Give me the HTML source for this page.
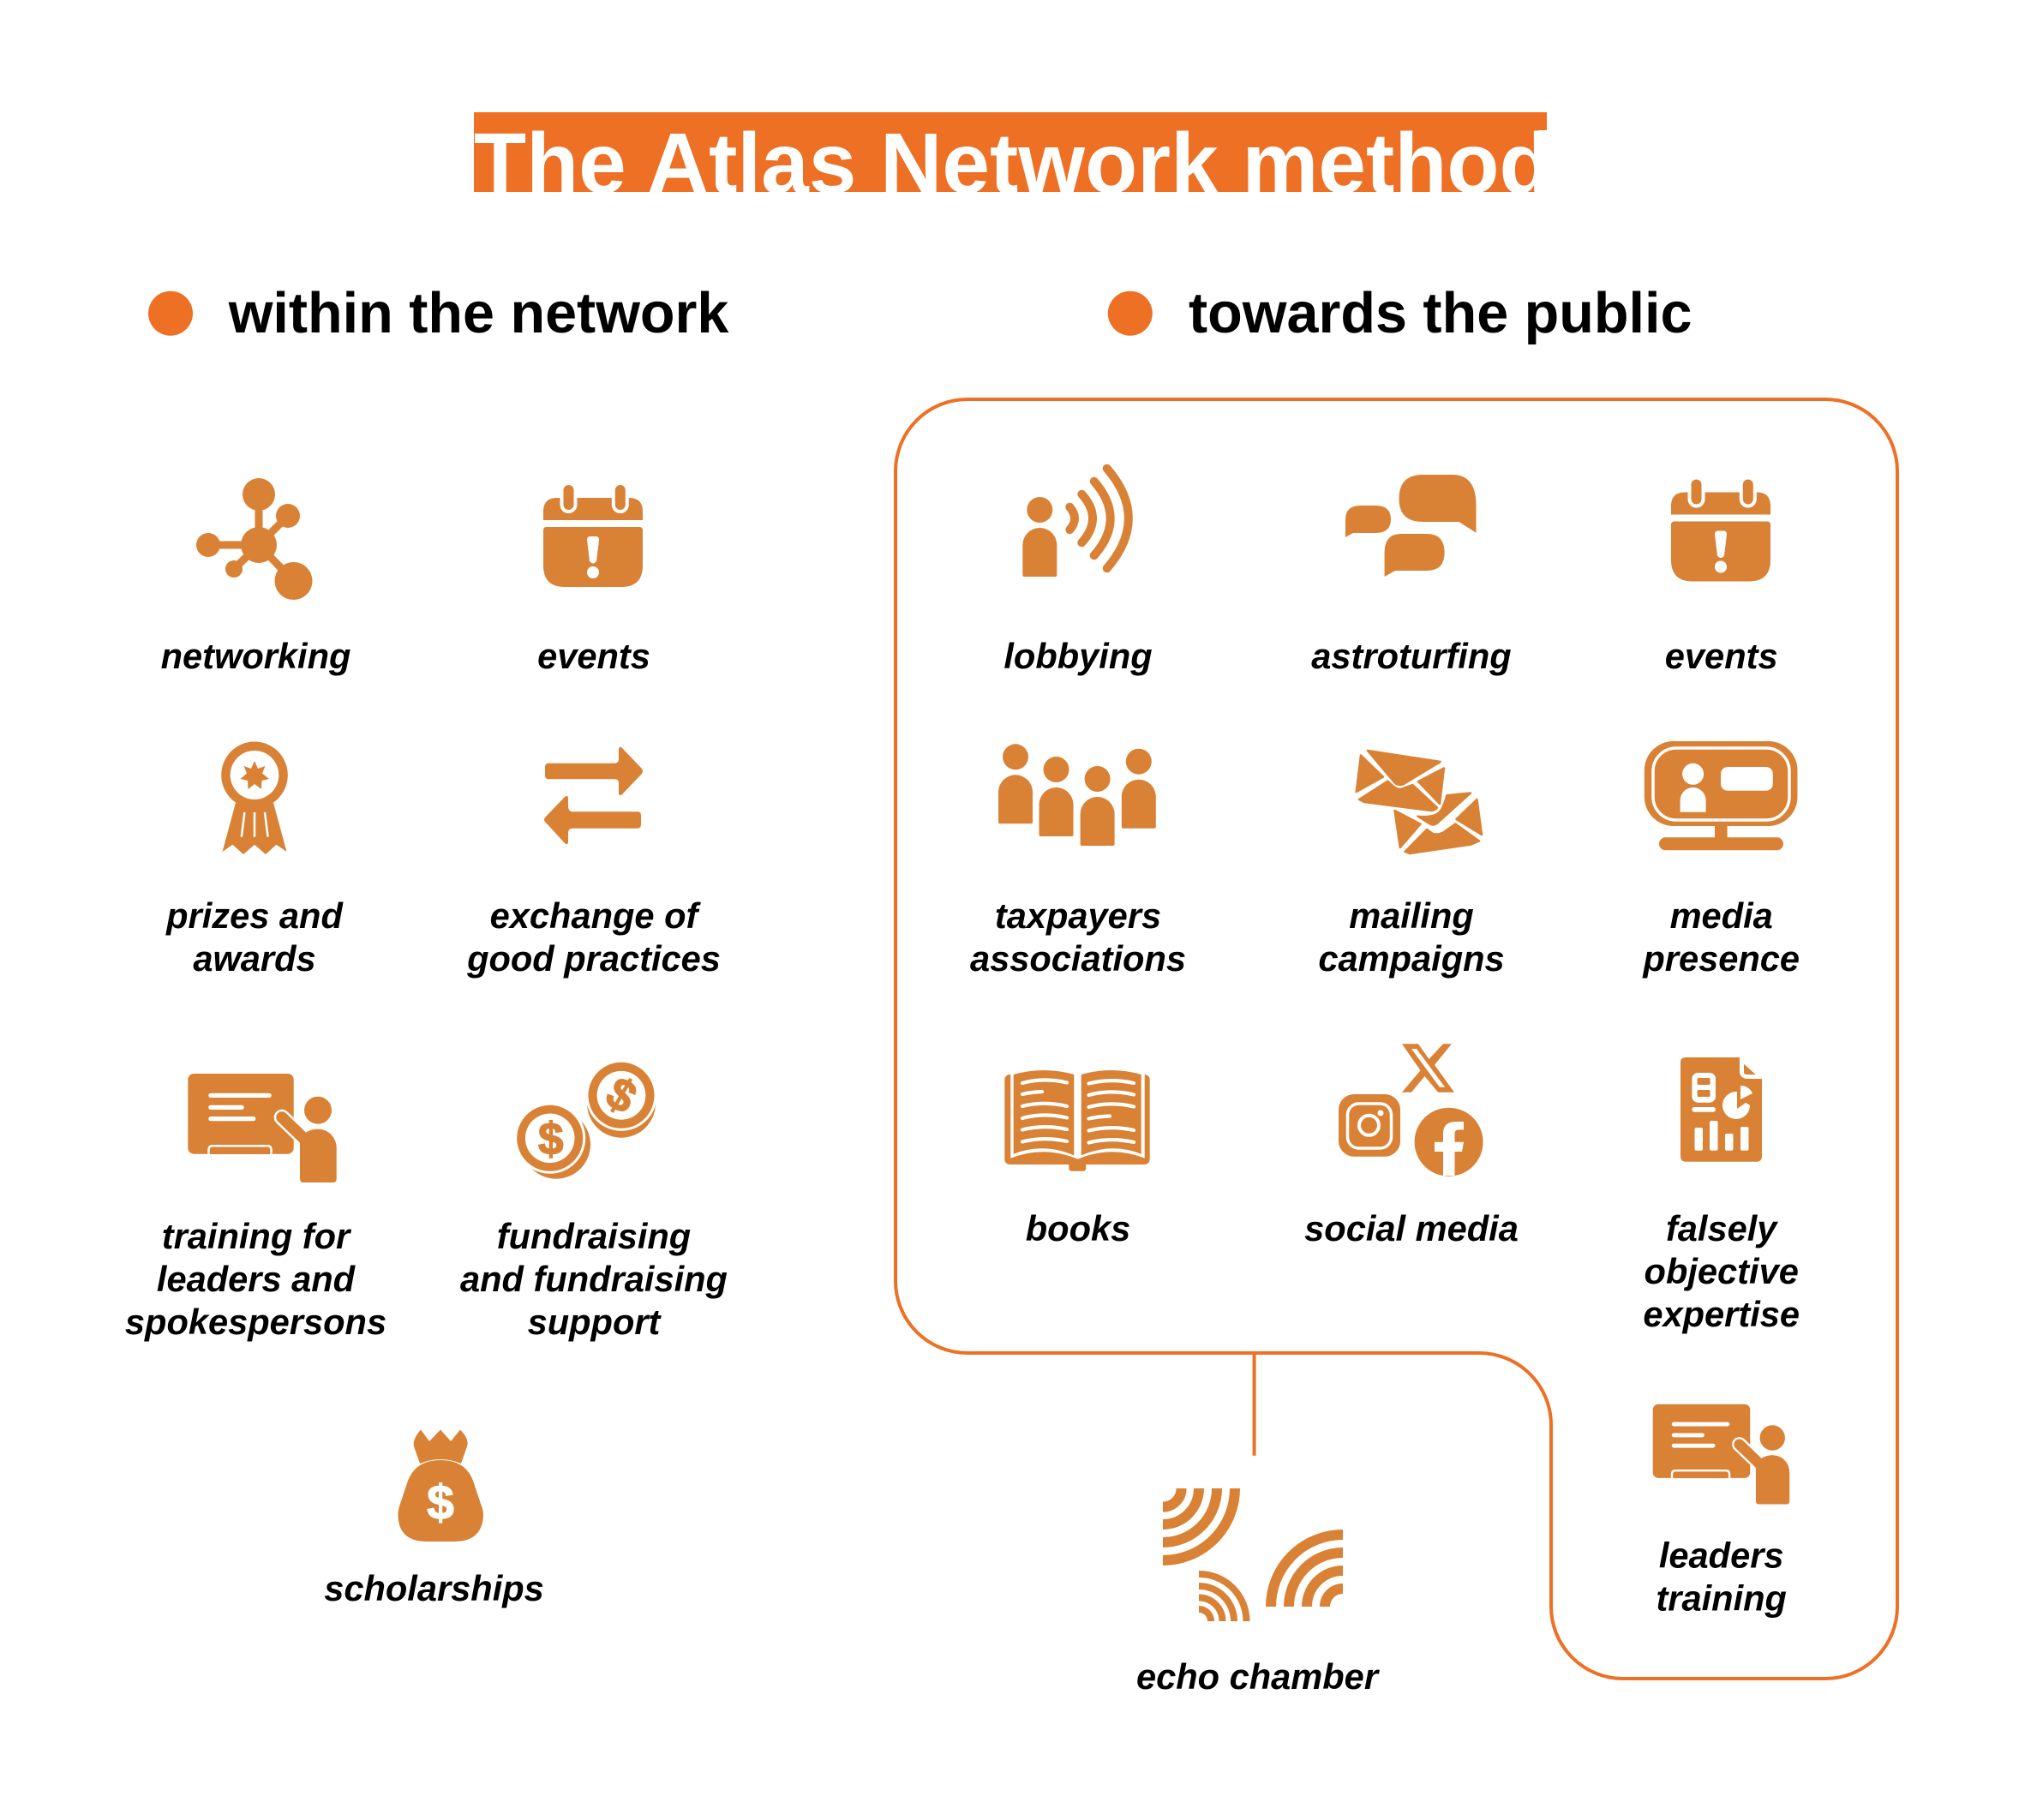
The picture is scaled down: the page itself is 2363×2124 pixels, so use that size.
<!DOCTYPE html>
<html><head><meta charset="utf-8"><style>
html,body{margin:0;padding:0;background:#fff}
svg{display:block}
.l{font:italic bold 41.6px "Liberation Sans",sans-serif;fill:#000;text-anchor:middle}
.h{font:bold 66.5px "Liberation Sans",sans-serif;fill:#000}
</style></head><body>
<svg xmlns="http://www.w3.org/2000/svg" width="2363" height="2124" viewBox="0 0 2363 2124">
<defs>
<clipPath id="tc"><rect x="553" y="131" width="1252" height="93"/></clipPath>
<g id="cal">
<path d="M634 607V597Q634 581 650 581H734Q750 581 750 597V607Z" fill="#D98236"/>
<path d="M634 619Q634 615 638 615H746Q750 615 750 619V660Q750 685 725 685H659Q634 685 634 660Z" fill="#D98236"/>
<rect x="655.500" y="564" width="16" height="33" rx="8" fill="#D98236" stroke="#fff" stroke-width="4"/>
<rect x="715.800" y="564" width="16" height="33" rx="8" fill="#D98236" stroke="#fff" stroke-width="4"/>
<path d="M685 630Q685 626 689 626H695Q699 626 699 630L696 655Q692 660 688 655Z" fill="#fff"/>
<ellipse cx="692" cy="668" rx="7" ry="7" fill="#fff"/>
</g>
<g id="person">
<circle cx="0" cy="0" r="15"/>
<path d="M-20 76V41A20 20 0 0 1 20 41V76Q20 78 18 78H-18Q-20 78 -20 76Z"/>
</g>
<g id="tr">
<rect x="219.300" y="1253" width="123.400" height="93.700" rx="7" fill="#D98236"/>
<g fill="#fff">
<rect x="243.300" y="1275.700" width="73.400" height="5.300" rx="2.600"/>
<rect x="243.300" y="1289.700" width="41.400" height="5.300" rx="2.600"/>
<rect x="243.300" y="1303" width="55" height="5.300" rx="2.600"/>
</g>
<path d="M243.500 1347V1342Q243.500 1337.200 248 1337.200H312Q316.500 1337.200 316.500 1342V1347" fill="#D98236" stroke="#fff" stroke-width="2.500"/>
<path d="M329 1304L356 1330" stroke="#fff" stroke-width="18.500" stroke-linecap="round" fill="none"/>
<path d="M329 1304L358 1332" stroke="#D98236" stroke-width="13.500" stroke-linecap="round" fill="none"/>
<circle cx="371" cy="1295.700" r="16" fill="#D98236"/>
<path d="M350 1376V1332L358 1321A26 26 0 0 1 372 1317.700A21 22 0 0 1 392.700 1340V1376Q392.700 1380 388.700 1380H354Q350 1380 350 1376Z" fill="#D98236"/>
</g>
</defs>

<rect x="553" y="131" width="1252" height="93" fill="#EE7024"/>
<text x="553" y="225" clip-path="url(#tc)" font-family="Liberation Sans" font-weight="bold" font-size="100" fill="#fff">The Atlas Network method</text>
<rect x="1795" y="152" width="11" height="73" fill="#fff"/>

<circle cx="199" cy="365.700" r="26" fill="#EE7024"/>
<text class="h" x="266.700" y="387.800">within the network</text>
<circle cx="1318.800" cy="365.700" r="26" fill="#EE7024"/>
<text class="h" x="1387" y="387.800">towards the public</text>

<path d="M1129 466H2130A84 84 0 0 1 2214 550V1875A84 84 0 0 1 2130 1959H1894A84 84 0 0 1 1810 1875V1663A84 84 0 0 0 1726 1579H1129A84 84 0 0 1 1045 1495V550A84 84 0 0 1 1129 466Z" fill="none" stroke="#EE7024" stroke-width="4"/>
<path d="M1463.600 1579V1698.700" stroke="#EE7024" stroke-width="4" fill="none"/>

<g fill="#D98236" stroke="none">
<!-- networking -->
<g stroke="#D98236" stroke-width="9"><path d="M302 577V636M302 636L336 602M302 636H243M302 636L273 664M302 636L342.500 678"/></g>
<circle cx="302" cy="636" r="21"/><circle cx="302" cy="577" r="19"/><circle cx="336" cy="602" r="14"/><circle cx="243" cy="636" r="14"/><circle cx="273" cy="664" r="10"/><circle cx="342.500" cy="678" r="22"/>
<use href="#cal"/>
<use href="#cal" transform="translate(1316,-6.500)"/>
<!-- award -->
<path d="M275 936.700H319L334.500 994L322.400 985.700L310 997L297 985.700L284 997L271.500 985.700L259.500 994Z"/>
<ellipse cx="297" cy="904.500" rx="38.800" ry="39" />
<ellipse cx="297" cy="904.500" rx="28.300" ry="28.500" fill="#fff"/>
<polygon points="297,888 301,897 309.500,894 306,902.500 314,909 305.500,911 305,921 297,915 289.500,921 289,911 280.500,909 288,902.500 284.500,894 293,897"/>
<path d="M285.400 948L281.800 976.700M297 948V976.700M309 948L312.600 976.700" stroke="#fff" stroke-width="2.500"/>
<!-- arrows -->
<path d="M640 890.700H717Q722 890.700 722 885V874Q723 870 726 873L749 897Q751 900 749 903L726 927Q723 930 722 926V914Q722 909.300 717 909.300H640Q636 909.300 636 905V895Q636 890.700 640 890.700Z"/>
<path d="M744 947.300H668Q664 947.300 663 942V931Q662 927 659 930L636 954Q634 956.700 636 959L659 984Q662 987 663 983V972Q663 966.700 668 966.700H744Q748 966.700 748 962V952Q748 947.300 744 947.300Z"/>
<!-- trainer -->
<use href="#tr"/>
<use href="#tr" transform="translate(1928.700,1638.700) scale(.92) translate(-219.300,-1253)"/>
<!-- coins -->
<circle cx="649" cy="1335.700" r="40"/>
<circle cx="641.700" cy="1328.300" r="40" stroke="#fff" stroke-width="3"/>
<circle cx="641.700" cy="1328.300" r="28.800" fill="#fff"/>
<text x="642.700" y="1347" font-family="Liberation Sans" font-weight="bold" font-size="53" text-anchor="middle" stroke="#D98236" stroke-width="1.500">$</text>
<circle cx="725" cy="1287.700" r="40"/>
<circle cx="725" cy="1278.300" r="40" stroke="#fff" stroke-width="3"/>
<circle cx="725" cy="1278.300" r="28.400" fill="#fff"/>
<text x="725" y="1296" font-family="Liberation Sans" font-weight="bold" font-size="53" text-anchor="middle" stroke="#D98236" stroke-width="1.500" transform="rotate(30 725 1278.300)">$</text>
<!-- bag -->
<path d="M490 1708L483 1688Q481 1680 491 1668.500L501 1682L514 1668.500L526 1682L537 1668.500Q548 1680 545 1688L538 1708Q514 1698 490 1708Z"/>
<path d="M514 1704Q543 1704 552 1728L561 1755Q564 1762 564 1768Q563 1799 530 1799H498Q465 1799 464.400 1768Q464.400 1762 467 1755L476 1728Q485 1704 514 1704Z"/>
<text x="514" y="1773" font-family="Liberation Sans" font-weight="bold" font-size="57" text-anchor="middle" fill="#fff" stroke="#fff" stroke-width="1.200">$</text>
<!-- lobbying -->
<use href="#person" transform="translate(1213.300,595)"/>
<g fill="none" stroke="#D98236" stroke-width="10" stroke-linecap="round">
<path d="M1248.300 591.700Q1259.700 605 1248.300 618.300"/>
<path d="M1262.300 576.700Q1287.700 605 1262.300 633.300"/>
<path d="M1276.700 561.700Q1314.700 605 1276.700 648.300"/>
<path d="M1291.700 546.700Q1342 605 1291.700 663.300"/>
</g>
<!-- astroturfing -->
<path d="M1660 554H1695Q1722.500 554 1722.500 590V621.700L1702.500 609H1660Q1632.500 609 1632.500 582Q1632.500 554 1660 554Z"/>
<path d="M1588 590H1605Q1623 590 1623 606Q1623 622 1605 622H1579L1570 627V606Q1570 590 1588 590Z"/>
<path d="M1635 623H1665Q1685.600 623 1685.600 645Q1685.600 666 1665 666H1628L1615.600 673V645Q1615.600 623 1635 623Z"/>
<!-- taxpayers -->
<use href="#person" transform="translate(1185,883.300)"/>
<use href="#person" transform="translate(1232.500,898)"/>
<use href="#person" transform="translate(1280.600,909)"/>
<use href="#person" transform="translate(1328.800,888.700)"/>
<!-- envelopes -->
<g stroke="#D98236" stroke-width="2.500" stroke-linejoin="round">
<path d="M1654.500 952.700Q1676 955 1682 945Q1687 935 1688.300 928.300L1716 925.500L1676.700 961Q1672 964 1668 961Z"/>
<polygon points="1627.500,946 1657.500,961.700 1633.800,989"/>
<polygon points="1723.500,933 1729,974 1699.500,956"/>
<path d="M1639.500 994L1665 968L1672 973Q1678.300 975 1685 971L1698.300 961.500L1726 981.500L1716.700 985.500L1645 996Z"/>
<path d="M1596 876L1680.700 889L1637 915.500Q1633 917 1628 914Z"/>
<polygon points="1588,881.500 1614,906.700 1582.700,924"/>
<polygon points="1685,896.500 1680,938 1655,912"/>
<path d="M1586 933L1619.300 911.700L1627 918.500Q1633.300 923 1640 919L1648.300 916L1677 942.500Q1675 945.500 1670 946L1592 936Z"/>
</g>
<!-- monitor -->
<rect x="1918.800" y="865" width="178.700" height="99" rx="34"/>
<rect x="1929" y="873" width="159" height="84" rx="27" fill="none" stroke="#fff" stroke-width="3.500"/>
<rect x="2001" y="960" width="14.600" height="20"/>
<rect x="1936" y="977.300" width="145" height="15" rx="7.500"/>
<circle cx="1975.600" cy="903.300" r="12.500" fill="#fff"/>
<path d="M1960.600 947.700V934A15 15 0 0 1 1990.600 934V947.700Z" fill="#fff"/>
<rect x="2008" y="895" width="60.800" height="27.700" rx="8" fill="#fff"/>
<!-- book -->
<rect x="1172.300" y="1254" width="169.400" height="105" rx="6"/>
<rect x="1247.300" y="1355" width="20" height="11.700" rx="3"/>
<path d="M1179.300 1240H1335.700V1351.700Q1297 1336.300 1257.700 1352.700Q1218 1336.300 1179.300 1351.700Z" fill="#fff"/>
<path d="M1182.700 1254Q1218 1244 1253.300 1254V1348.500Q1218 1333 1182.700 1346.700Z"/>
<path d="M1261.700 1254Q1297 1244 1331.700 1254V1346.700Q1297 1333 1261.700 1348.500Z"/>
<g fill="none" stroke="#fff" stroke-width="4.200" stroke-linecap="round">
<path d="M1193 1264Q1218 1257 1245 1263.500M1193 1277Q1204 1274.500 1216 1274M1193 1291Q1218 1284.500 1245 1291M1193 1305Q1218 1298 1245 1304.500M1193 1318.500Q1218 1312 1245 1318M1193 1332.500Q1218 1326 1245 1332"/>
<path d="M1270.500 1264.500Q1296 1258 1323 1264M1270.500 1278Q1296 1271 1323 1277.500M1270.500 1292Q1296 1285 1323 1291.500M1270.500 1305.500Q1282 1303 1295 1302.500M1270.500 1319.500Q1296 1313 1323 1319M1270.500 1333.500Q1296 1327 1323 1333"/>
</g>
<!-- X -->
<path d="M1636 1218.300H1655L1667.500 1236L1684 1218.300H1694L1674 1242.700L1697 1274.700H1678L1662.500 1256L1647 1274.700H1636L1657.500 1249.300Z"/>
<path d="M1647 1224H1653L1686 1268.700H1680Z" fill="#fff"/>
<!-- instagram -->
<rect x="1562" y="1277" width="72" height="72.700" rx="18"/>
<rect x="1572.500" y="1288" width="51" height="52" rx="13" fill="none" stroke="#fff" stroke-width="3.500"/>
<circle cx="1597.500" cy="1313.300" r="11.500" fill="none" stroke="#fff" stroke-width="4"/>
<circle cx="1611" cy="1299" r="3.500" fill="#fff"/>
<!-- facebook -->
<circle cx="1690.600" cy="1332.700" r="40"/>
<path d="M1684 1372V1344H1674V1332.700H1684V1323Q1684 1309 1699 1309H1708V1318.500H1702Q1697.500 1318.500 1697.500 1323V1332.700H1708L1706 1344H1697.500V1372Z" fill="#fff"/>
<!-- report -->
<path d="M1967 1234H2030V1250Q2030 1259 2040 1259H2056V1349Q2056 1355.700 2050 1355.700H1967Q1961 1355.700 1961 1349V1240Q1961 1234 1967 1234Z"/>
<path d="M2035 1241.700L2048.700 1254H2038Q2035 1254 2035 1251Z"/>
<rect x="1974.400" y="1252" width="27.600" height="34.700" rx="7" fill="#fff"/>
<rect x="1980.600" y="1258" width="15" height="8" rx="1.500"/>
<rect x="1980.600" y="1272" width="15" height="8" rx="1.500"/>
<rect x="1974.400" y="1292" width="27.600" height="5.700" rx="2.800" fill="#fff"/>
<path d="M2027 1274A16 16 0 1 0 2042 1290L2037 1287L2027 1294Z" fill="#fff"/>
<path d="M2031 1267A15 15 0 0 1 2045 1276L2031 1283Z" fill="#fff"/>
<g fill="#fff">
<rect x="1977.500" y="1316" width="9.500" height="26.700" rx="2"/>
<rect x="1995" y="1308" width="9.500" height="34.700" rx="2"/>
<rect x="2013" y="1323" width="9.500" height="19.700" rx="2"/>
<rect x="2031" y="1315" width="9.500" height="27.700" rx="2"/>
</g>
<!-- echo -->
<g fill="none" stroke="#D98236" stroke-width="12">
<path d="M1357 1758.600A21.600 21.600 0 0 0 1378.600 1737M1357 1779A42 42 0 0 0 1399 1737M1357 1800A63 63 0 0 0 1420 1737M1357 1821A84 84 0 0 0 1441 1737"/>
<path d="M1567 1791A84 84 0 0 0 1483 1875M1567 1812A63 63 0 0 0 1504 1875M1567 1833A42 42 0 0 0 1525 1875M1567 1854A21 21 0 0 0 1546 1875"/>
<g stroke-width="8"><path d="M1399 1837A55 55 0 0 1 1454.500 1892M1399 1851A41 41 0 0 1 1440 1892M1399 1864.500A27.500 27.500 0 0 1 1426.500 1892M1399 1878A14 14 0 0 1 1413 1892"/></g>
</g>
</g>

<text class="l" x="298.500" y="780">networking</text>
<text class="l" x="693" y="780">events</text>
<text class="l" x="1258" y="780">lobbying</text>
<text class="l" x="1647" y="780">astroturfing</text>
<text class="l" x="2008.700" y="780">events</text>

<text class="l" x="297" y="1083">prizes and</text><text class="l" x="297" y="1133">awards</text>
<text class="l" x="693" y="1083">exchange of</text><text class="l" x="693" y="1133">good practices</text>
<text class="l" x="1258" y="1083">taxpayers</text><text class="l" x="1258" y="1133">associations</text>
<text class="l" x="1647" y="1083">mailing</text><text class="l" x="1647" y="1133">campaigns</text>
<text class="l" x="2008.700" y="1083">media</text><text class="l" x="2008.700" y="1133">presence</text>

<text class="l" x="298.500" y="1457">training for</text><text class="l" x="298.500" y="1507">leaders and</text><text class="l" x="298.500" y="1557">spokespersons</text>
<text class="l" x="693" y="1457">fundraising</text><text class="l" x="693" y="1507">and fundraising</text><text class="l" x="693" y="1557">support</text>
<text class="l" x="1258" y="1448">books</text>
<text class="l" x="1647" y="1448">social media</text>
<text class="l" x="2008.700" y="1448">falsely</text><text class="l" x="2008.700" y="1498">objective</text><text class="l" x="2008.700" y="1548">expertise</text>
<text class="l" x="506.500" y="1868">scholarships</text>
<text class="l" x="2008.700" y="1829.500">leaders</text><text class="l" x="2008.700" y="1879.500">training</text>
<text class="l" x="1467" y="1971">echo chamber</text>
</svg>
</body></html>
